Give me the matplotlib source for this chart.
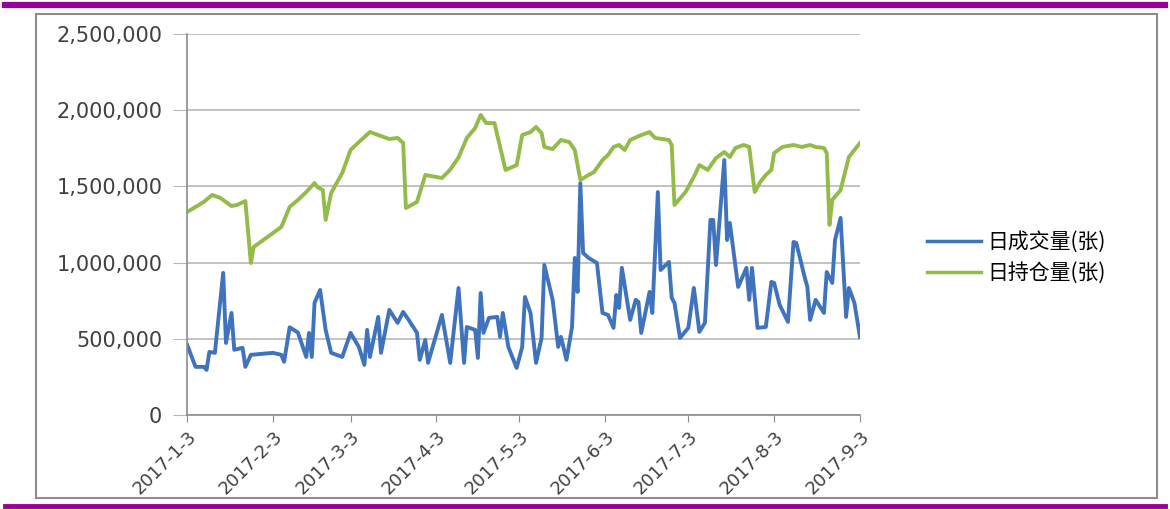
import numpy as np
import pandas as pd
import matplotlib
matplotlib.use('Agg')
import matplotlib.pyplot as plt
from matplotlib.lines import Line2D
from matplotlib.patches import Rectangle
from matplotlib.ticker import FuncFormatter

plt.rcParams['font.family'] = ['DejaVu Sans', 'Noto Sans CJK SC']

# days after 2017-01-03
vol_days = [0, 3, 6, 7, 8, 10, 13, 14, 16, 17, 20, 21, 23, 31, 34, 35, 37, 40, 43, 44,
            45, 46, 48, 50, 52, 56, 59, 62, 64, 65, 66, 69, 70, 73, 76, 78, 80, 83, 84, 86,
            87, 92, 95, 98, 100, 101, 104, 105, 106, 107, 109, 112, 113, 114, 116, 119, 121, 122, 124, 126,
            128, 129, 132, 134, 135, 137, 139, 140, 141, 142, 143, 145, 148, 150, 152, 154, 155, 156, 157, 160,
            162, 163, 164, 167, 168, 170, 171, 174, 175, 176, 178, 181, 183, 185, 187, 189, 190, 191, 194, 195,
            196, 199, 202, 203, 204, 206, 209, 211, 212, 214, 217, 219, 220, 223, 224, 225, 227, 230, 231, 233,
            234, 236, 238, 239, 241, 243]
vol_values = [459, 315, 315, 295, 413, 407, 932, 472, 669, 427, 440, 315, 394, 407, 394, 348, 575, 540, 380, 538,
              380, 735, 820, 558, 407, 380, 538, 446, 328, 558, 380, 643, 407, 689, 604, 676, 623, 538, 361, 492,
              341, 656, 341, 833, 341, 577, 558, 374, 800, 538, 637, 643, 512, 669, 446, 308, 446, 774, 669, 341,
              505, 984, 755, 446, 512, 361, 577, 1030, 807, 1522, 1063, 1030, 997, 669, 656, 571, 787, 702, 965, 623,
              755, 741, 538, 807, 669, 1463, 951, 1004, 768, 735, 505, 571, 833, 545, 604, 1280, 1280, 984, 1673, 1148,
              1260, 840, 965, 755, 965, 571, 577, 873, 866, 722, 610, 1135, 1129, 906, 840, 623, 755, 669, 938, 866,
              1148, 1293, 643, 833, 735, 512]

oi_days = [0, 6, 9, 12, 16, 18, 21, 23, 24, 31, 34, 37, 40, 43, 46, 47, 49, 50, 52, 56,
           59, 62, 66, 71, 73, 76, 78, 79, 83, 86, 92, 95, 98, 101, 104, 106, 108, 111, 112, 115,
           119, 121, 124, 126, 128, 129, 132, 135, 138, 140, 142, 145, 147, 150, 152, 154, 156, 158, 160, 164,
           167, 169, 174, 175, 176, 180, 183, 185, 188, 191, 194, 196, 198, 201, 203, 205, 207, 209, 211, 212,
           215, 219, 222, 225, 227, 230, 231, 232, 233, 236, 239, 243]
oi_values = [1332, 1398, 1444, 1424, 1371, 1378, 1404, 997, 1102, 1194, 1234, 1365, 1411, 1463, 1522, 1496, 1476, 1280, 1457, 1588,
             1739, 1791, 1857, 1824, 1811, 1818, 1785, 1358, 1398, 1575, 1555, 1610, 1690, 1818, 1883, 1969, 1916, 1916, 1837, 1608,
             1640, 1837, 1857, 1890, 1850, 1759, 1745, 1805, 1791, 1739, 1542, 1575, 1595, 1673, 1706, 1759, 1772, 1739, 1805, 1837,
             1857, 1818, 1805, 1772, 1378, 1463, 1562, 1640, 1608, 1686, 1726, 1693, 1752, 1772, 1759, 1463, 1529, 1575, 1608, 1719,
             1759, 1772, 1759, 1772, 1759, 1752, 1719, 1247, 1411, 1476, 1693, 1785]

tick_labels = ['2017-1-3', '2017-2-3', '2017-3-3', '2017-4-3', '2017-5-3',
               '2017-6-3', '2017-7-3', '2017-8-3', '2017-9-3']
series_names = ['日成交量(张)', '日持仓量(张)']

start = pd.Timestamp('2017-01-03')
vol_dates = start + pd.to_timedelta(vol_days, unit='D')
oi_dates = start + pd.to_timedelta(oi_days, unit='D')
tick_dates = pd.to_datetime(tick_labels, format='%Y-%m-%d')

fig = plt.figure(figsize=(11.7, 5.09), dpi=100)
ax = fig.add_axes([0.160, 0.185, 0.575, 0.748])

# page decorations: purple rules and grey frame
fig.add_artist(Line2D([0.004, 0.996], [0.990, 0.990], color='#990099', lw=4.5, transform=fig.transFigure))
fig.add_artist(Line2D([0.004, 0.996], [0.006, 0.006], color='#990099', lw=3.5, transform=fig.transFigure))
fig.add_artist(Rectangle((0.031, 0.022), 0.958, 0.951, fill=False, edgecolor='#8c8c8c', lw=1.5,
                         transform=fig.transFigure))

ax.plot(vol_dates, np.array(vol_values) * 1000, color='#3f73bd', lw=2.8, label=series_names[0])
ax.plot(oi_dates, np.array(oi_values) * 1000, color='#92bb4a', lw=2.8, label=series_names[1])

ax.set_ylim(0, 2500000)
ax.set_yticks(np.arange(0, 2500001, 500000))
ax.yaxis.set_major_formatter(FuncFormatter(lambda v, p: f'{v:,.0f}'))
ax.set_xlim(tick_dates[0], tick_dates[-1])
ax.set_xticks(tick_dates)
ax.set_xticklabels(tick_labels, rotation=45, ha='right', rotation_mode='anchor')

ax.grid(axis='y', color='#b8b8b8', lw=1.2)
ax.set_axisbelow(True)
for s in ['top', 'right']:
    ax.spines[s].set_visible(False)
for s in ['left', 'bottom']:
    ax.spines[s].set_color('#8c8c8c')
    ax.spines[s].set_linewidth(1.2)
ax.tick_params(axis='y', length=10, color='#b8b8b8', labelsize=15, labelcolor='#404040', pad=8)
ax.tick_params(axis='x', length=5, color='#8c8c8c', labelsize=13, labelcolor='#404040', pad=4)

leg = ax.legend(loc='center left', bbox_to_anchor=(1.072, 0.413), frameon=False,
                prop={'family': ['Noto Sans CJK SC', 'DejaVu Sans'], 'size': 15},
                handlelength=2.6, labelspacing=0.45, handletextpad=0.3)
for h in leg.get_lines():
    h.set_linewidth(2.5)

fig.savefig('out.png', dpi=100, facecolor='white')
